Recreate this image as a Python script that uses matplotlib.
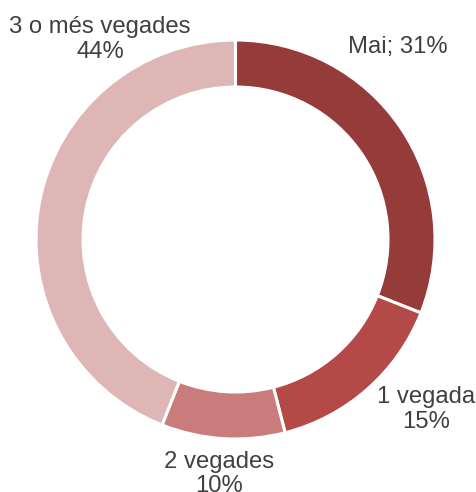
import matplotlib.pyplot as plt

labels = ["Mai", "1 vegada", "2 vegades", "3 o més vegades"]
values = [31, 15, 10, 44]
colors = ["#953b3a", "#b34a48", "#c97c7b", "#dfb6b6"]

plt.rcParams["font.family"] = ["Liberation Sans", "DejaVu Sans"]

fig = plt.figure(figsize=(4.77, 4.92), dpi=100)
ax = fig.add_axes([0, 0, 1, 1])

ax.pie(values, colors=colors, startangle=90, counterclock=False,
       center=(235.5, 252.5), radius=199.5, frame=True,
       wedgeprops=dict(width=47, edgecolor="white", linewidth=2.2))
ax.set_xlim(0, 477)
ax.set_ylim(0, 492)
ax.axis("off")

txt = dict(fontsize=17.2, color="#404040", ha="center", va="center", linespacing=1.12)
ax.text(100, 492 - 39.5, "3 o més vegades\n44%", **txt)
ax.text(398, 492 - 47, "Mai; 31%", **txt)
ax.text(426, 492 - 409.5, "1 vegada\n15%", **txt)
ax.text(219, 492 - 474, "2 vegades\n10%", **txt)

fig.savefig("out.png", dpi=100)
